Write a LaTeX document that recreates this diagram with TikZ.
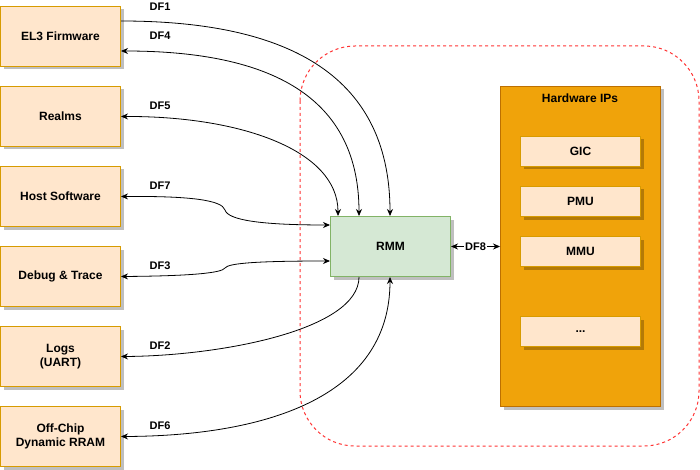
\documentclass[tikz,border=0pt]{standalone}
\usepackage{fontspec}
\setmainfont{Liberation Sans}
\usetikzlibrary{arrows.meta,shadows,calc}
\definecolor{peach}{HTML}{FFE6CC}
\definecolor{peachline}{HTML}{D79B00}
\definecolor{mint}{HTML}{D5E8D4}
\definecolor{mintline}{HTML}{82B366}
\definecolor{amber}{HTML}{F0A30A}
\definecolor{amberline}{HTML}{BD7000}
\definecolor{redline}{HTML}{FF3333}
\begin{document}
\begin{tikzpicture}[x=1pt,y=-1pt,
  shadowed/.style={drop shadow={shadow xshift=3pt,shadow yshift=-3pt,fill=black,opacity=0.25}},
  basebox/.style={shadowed, line width=1pt, anchor=north west, align=center, inner sep=0pt,
    font=\fontsize{12}{14}\selectfont\bfseries},
  srcbox/.style={basebox, draw=peachline, fill=peach, minimum width=120pt, minimum height=60pt},
  rmmbox/.style={basebox, draw=mintline, fill=mint, minimum width=120pt, minimum height=60pt},
  hwbox/.style={basebox, draw=amberline, fill=amber, minimum width=160pt, minimum height=320pt},
  ipbox/.style={basebox, draw=peachline, fill=peach, minimum width=120pt, minimum height=30pt},
  dflabel/.style={font=\fontsize{11}{13}\selectfont\bfseries, inner sep=1pt},
  conn/.style={line width=0.8pt},
  oneway/.style={conn, -{Stealth[length=7pt,width=6pt]}},
  backway/.style={conn, {Stealth[length=7pt,width=6pt]}-},
  twoway/.style={conn, {Stealth[length=7pt,width=6pt]}-{Stealth[length=7pt,width=6pt]}},
  zone/.style={draw=redline, line width=1pt, dash pattern=on 3pt off 3pt, rounded corners=55pt}
]
\useasboundingbox (0,0) rectangle (700,470);

% trusted zone
\draw[zone] (300,46) rectangle (699,446);

% left boxes
\node[srcbox] (el3) at (0,6) {EL3 Firmware};
\node[srcbox] (realms) at (0,86) {Realms};
\node[srcbox] (host) at (0,166) {Host Software};
\node[srcbox] (debug) at (0,246) {Debug \& Trace};
\node[srcbox] (logs) at (0,326) {Logs\\(UART)};
\node[srcbox] (offchip) at (0,406) {Off-Chip\\Dynamic RRAM};

% RMM
\node[rmmbox] (rmm) at (330,216) {RMM};

% Hardware IPs
\node[hwbox] (hw) at (500,86) {};
\node[font=\fontsize{12}{14}\selectfont\bfseries] (hwlabel) at (580,98) {Hardware IPs};
\node[ipbox] (gic) at (520,136) {GIC};
\node[ipbox] (pmu) at (520,186) {PMU};
\node[ipbox] (mmu) at (520,236) {MMU};
\node[ipbox] (dots) at (520,316) {...};

% connection points
\coordinate (el3a) at ($(el3.north east)+(0,15)$);
\coordinate (el3b) at ($(el3.north east)+(0,45)$);
\coordinate (rtop1) at ($(rmm.north west)+(8,0)$);
\coordinate (rtop2) at ($(rmm.north west)+(29,0)$);
\coordinate (rtop3) at ($(rmm.north west)+(60,0)$);
\coordinate (rleft1) at ($(rmm.north west)+(0,9)$);
\coordinate (rleft2) at ($(rmm.north west)+(0,45)$);
\coordinate (rbot1) at ($(rmm.south west)+(29,0)$);
\coordinate (rbot2) at ($(rmm.south west)+(60,0)$);

% connectors
\draw[oneway] (el3a) .. controls (280,21) and (390,70) .. (rtop3);
\draw[twoway] (el3b) .. controls (260,51) and (359,90) .. (rtop2);
\draw[twoway] (realms.east) .. controls (240,116) and (338,150) .. (rtop1);
\draw[twoway] (host.east) .. controls (190,196) and (222,200) .. (225,210)
   .. controls (228,220) and (260,225) .. (rleft1);
\draw[twoway] (debug.east) .. controls (190,276) and (222,273) .. (225,268)
   .. controls (228,263) and (260,261) .. (rleft2);
\draw[backway] (logs.east) .. controls (220,356) and (359,330) .. (rbot1);
\draw[twoway] (offchip.east) .. controls (260,436) and (390,400) .. (rbot2);
\draw[twoway] (rmm.east) -- node[dflabel, fill=white] (df8) {DF8} (hw.west);

% labels
\node[dflabel] (l1) at (160,7) {DF1};
\node[dflabel] (l4) at (160,36) {DF4};
\node[dflabel] (l5) at (160,106) {DF5};
\node[dflabel] (l7) at (160,186) {DF7};
\node[dflabel] (l3) at (160,266) {DF3};
\node[dflabel] (l2) at (160,346) {DF2};
\node[dflabel] (l6) at (160,426) {DF6};
\end{tikzpicture}
\end{document}
